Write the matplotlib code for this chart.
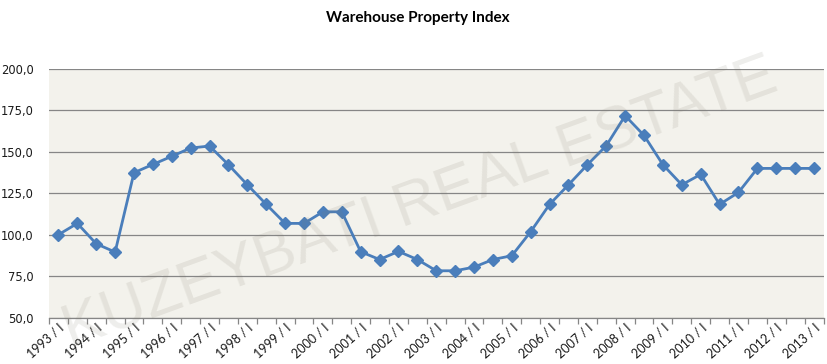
import numpy as np
import matplotlib
matplotlib.use("Agg")
import matplotlib.pyplot as plt

# Semi-annual index values, 1993 / I ... 2013 / I
years = list(range(1993, 2014))
values = [100.0, 106.8, 94.5, 89.5, 137.4, 142.4, 147.3, 152.3, 153.5, 142.2,
          130.1, 118.3, 106.8, 106.8, 113.8, 113.8, 89.7, 85.0, 89.9, 85.0,
          78.2, 78.2, 80.4, 85.0, 87.3, 101.8, 118.3, 130.1, 142.2, 153.7,
          171.8, 159.9, 142.2, 130.1, 136.4, 118.3, 125.5, 140.0, 140.0, 140.0,
          140.0]
tick_labels = ["%d / I" % y for y in years]
yticks = [50, 75, 100, 125, 150, 175, 200]

grid_col = "#868686"

fig = plt.figure(figsize=(8.28, 3.64), dpi=100)
ax = fig.add_axes([49 / 828, 1 - 317.5 / 364, 774.5 / 828, 248.5 / 364])
ax.set_facecolor("#f3f2ec")

x = np.arange(len(values))
ax.plot(x, values, color="#4a7ebb", linewidth=2.0, marker="D",
        markersize=6.5, markerfacecolor="#4a7ebb", markeredgecolor="#4a7ebb",
        zorder=3)

ax.set_xlim(-0.5, len(values) - 0.5)
ax.set_ylim(50, 200)
ax.set_yticks(yticks)
ax.set_yticklabels([("%.1f" % v).replace(".", ",") for v in yticks],
                   fontsize=8.3, family="DejaVu Sans", color="#1a1a1a")
ax.yaxis.grid(True, color=grid_col, linewidth=0.9)
ax.set_axisbelow(True)

ax.set_xticks(x[::2])
ax.set_xticklabels(tick_labels, rotation=42, ha="right", va="top",
                   rotation_mode="anchor", fontsize=9, family="Lato",
                   color="#1a1a1a")
ax.set_xticks(np.arange(-0.5, len(values)), minor=True)
ax.tick_params(axis="x", which="major", length=0, pad=3)
ax.tick_params(axis="x", which="minor", length=4, color=grid_col, width=0.9,
               direction="out")
ax.tick_params(axis="y", length=0, pad=11)

for s in ["left", "right", "top"]:
    ax.spines[s].set_visible(False)
ax.spines["bottom"].set_color(grid_col)
ax.spines["bottom"].set_linewidth(0.9)

fig.text(0.505, 0.95, "Warehouse Property Index", ha="center", va="center",
         fontsize=11, fontweight="bold", family="Lato", color="black")

# watermark
fig.text(420 / 828, 1 - 205 / 364, "KUZEYBATI REAL ESTATE", ha="center",
         va="center", rotation=20, rotation_mode="anchor", fontsize=44,
         family="Liberation Sans", color="#7f7a6a", alpha=0.13, zorder=10)

plt.savefig("out.png", dpi=100)
